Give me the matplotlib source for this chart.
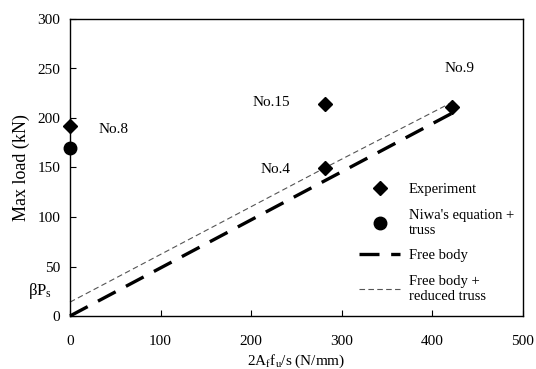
import matplotlib
matplotlib.use("Agg")
import matplotlib.pyplot as plt
from matplotlib.lines import Line2D

plt.rcParams['font.family'] = ['Liberation Serif', 'DejaVu Serif']
plt.rcParams['mathtext.fontset'] = 'custom'
plt.rcParams['mathtext.rm'] = 'Liberation Serif'

# experiment points
exp_x = [0, 282, 282, 422]
exp_y = [192, 214, 149, 211]
exp_labels = ['No.8', 'No.15', 'No.4', 'No.9']

# Niwa's equation + truss
niwa_x = [0]
niwa_y = [170]

# free body
fb_x = [0, 282, 422]
fb_y = [0, 137, 205]

# free body + reduced truss
fbr_x = [0, 282, 422]
fbr_y = [14, 150, 216]

fig = plt.figure(figsize=(5.36, 3.69), dpi=100)
ax = fig.add_axes([70 / 536, 1 - 316 / 369, 453 / 536, 297 / 369])

ax.plot(fbr_x, fbr_y, color='#555555', lw=0.8, dashes=(5, 3), clip_on=False)
ax.plot(fb_x, fb_y, color='black', lw=2.4, dashes=(6, 3.5), clip_on=False)
ax.plot(exp_x, exp_y, 'D', color='black', ms=7, ls='none', clip_on=False)
ax.plot(niwa_x, niwa_y, 'o', color='black', ms=9, ls='none', clip_on=False)

# labels next to specimens
ax.text(31, 188, exp_labels[0], fontsize=11, va='center')
ax.text(202, 216, exp_labels[1], fontsize=11, va='center')
ax.text(210, 148, exp_labels[2], fontsize=11, va='center')
ax.text(413, 250, exp_labels[3], fontsize=11, va='center')

ax.text(-20, 25, r'$\mathregular{\beta P_s}$', fontsize=12, ha='right', va='center')

ax.set_xlim(0, 500)
ax.set_ylim(0, 300)
ax.set_xticks([0, 100, 200, 300, 400, 500])
ax.set_yticks([0, 50, 100, 150, 200, 250, 300])
ax.tick_params(direction='in', length=4, labelsize=11)
ax.tick_params(axis='x', pad=14)
ax.tick_params(axis='y', pad=7)
ax.set_xlabel(r'2A$_\mathregular{f}$f$_\mathregular{u}$/s (N/mm)', fontsize=11, labelpad=3)
ax.set_ylabel('Max load (kN)', fontsize=13, labelpad=5)
for s in ax.spines.values():
    s.set_linewidth(1.0)

handles = [
    Line2D([], [], marker='D', color='black', ls='none', ms=7),
    Line2D([], [], marker='o', color='black', ls='none', ms=9),
    Line2D([], [], color='black', lw=2.4, dashes=(6, 3.5)),
    Line2D([], [], color='#555555', lw=0.8, dashes=(5, 3)),
]
names = ['Experiment', "Niwa's equation +\ntruss", 'Free body', 'Free body +\nreduced truss']
ax.legend(handles, names, loc='lower right', bbox_to_anchor=(1.0, 0.015), frameon=False,
          fontsize=10.5, handlelength=2.8, labelspacing=0.85, handletextpad=0.6,
          borderaxespad=0.2)

fig.savefig('out.png', dpi=100)
